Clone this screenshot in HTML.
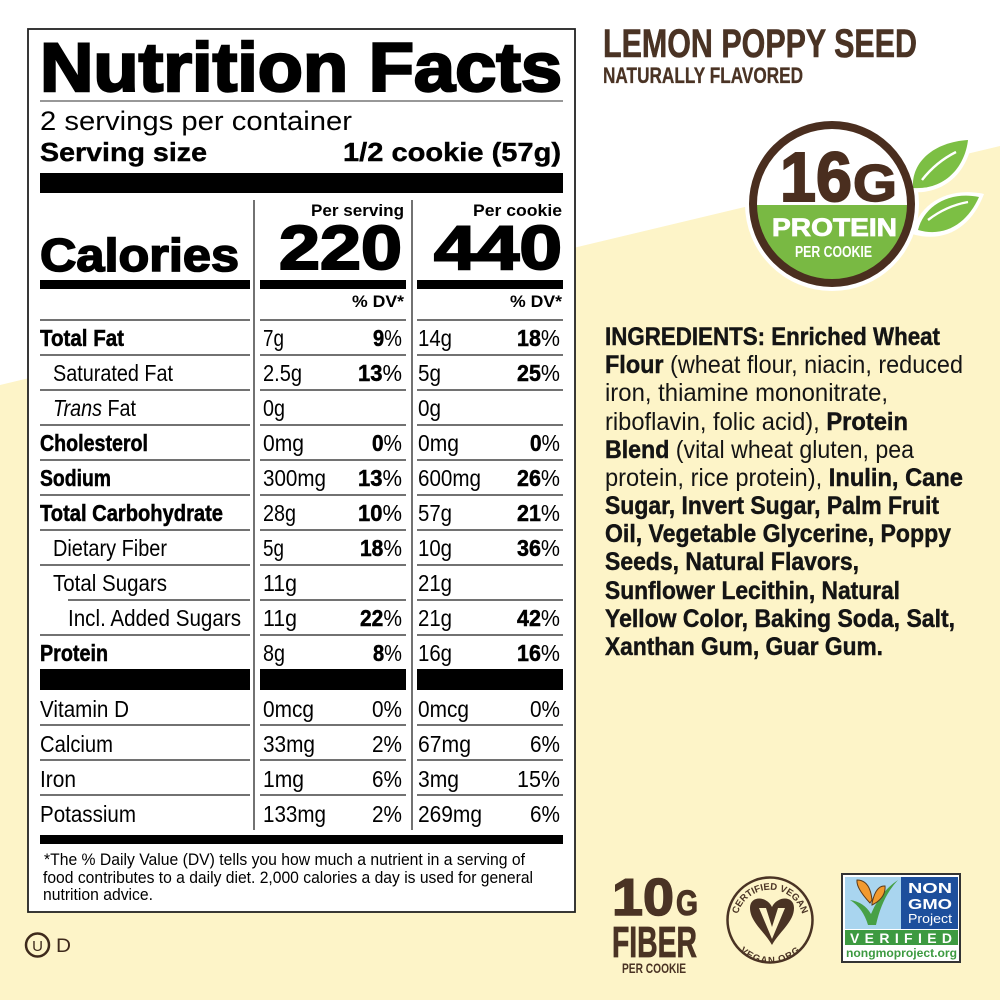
<!DOCTYPE html>
<html><head><meta charset="utf-8">
<style>
html,body{margin:0;padding:0;background:#fff;width:1000px;height:1000px;overflow:hidden;}
svg{display:block;}
text{font-family:"Liberation Sans",Arial,sans-serif;}
.r{font-size:23px;fill:#000;}
.b{font-weight:bold;stroke:#000;stroke-width:0.5;}
.ing{font-size:25px;fill:#141414;}
.ib{font-weight:bold;stroke:#141414;stroke-width:0.45;}
.br{fill:#4a3324;}
</style></head><body>
<svg width="1000" height="1000" viewBox="0 0 1000 1000" xmlns="http://www.w3.org/2000/svg">
<rect width="1000" height="1000" fill="#fff"/>
<polygon points="0,385 1000,146 1000,1000 0,1000" fill="#fdf4c8"/>

<!-- ===== Nutrition table ===== -->
<rect x="28" y="29" width="547" height="883" fill="#fff" stroke="#222" stroke-width="1.8"/>
<text x="40" y="91" font-size="69" font-weight="bold" textLength="522" lengthAdjust="spacingAndGlyphs" stroke="#000" stroke-width="2.4">Nutrition Facts</text>
<line x1="40" y1="101" x2="563" y2="101" stroke="#777" stroke-width="1.5"/>
<text x="40" y="130" font-size="27" textLength="312" lengthAdjust="spacingAndGlyphs">2 servings per container</text>
<text x="40" y="161" font-size="26" font-weight="bold" textLength="167" lengthAdjust="spacingAndGlyphs" stroke="#000" stroke-width="0.4">Serving size</text>
<text x="561" y="161" font-size="26" font-weight="bold" text-anchor="end" textLength="218" lengthAdjust="spacingAndGlyphs" stroke="#000" stroke-width="0.4">1/2 cookie (57g)</text>
<rect x="40" y="173" width="523" height="20" fill="#000"/>

<line x1="254" y1="200" x2="254" y2="830" stroke="#444" stroke-width="1.5"/>
<line x1="412" y1="200" x2="412" y2="830" stroke="#444" stroke-width="1.5"/>

<text x="404" y="216" font-size="17" font-weight="bold" text-anchor="end" textLength="93" lengthAdjust="spacingAndGlyphs">Per serving</text>
<text x="562" y="216" font-size="17" font-weight="bold" text-anchor="end" textLength="89" lengthAdjust="spacingAndGlyphs">Per cookie</text>
<text x="40" y="271" font-size="46" font-weight="bold" textLength="199" lengthAdjust="spacingAndGlyphs" stroke="#000" stroke-width="1.6">Calories</text>
<text x="279" y="269" font-size="62" font-weight="bold" textLength="123" lengthAdjust="spacingAndGlyphs" stroke="#000" stroke-width="2">220</text>
<text x="434" y="269" font-size="62" font-weight="bold" textLength="128" lengthAdjust="spacingAndGlyphs" stroke="#000" stroke-width="2">440</text>
<rect x="40" y="280" width="210" height="9" fill="#000"/>
<rect x="260" y="280" width="146" height="9" fill="#000"/>
<rect x="417" y="280" width="146" height="9" fill="#000"/>
<text x="404" y="307" font-size="17" font-weight="bold" text-anchor="end" textLength="52" lengthAdjust="spacingAndGlyphs">% DV*</text>
<text x="562" y="307" font-size="17" font-weight="bold" text-anchor="end" textLength="52" lengthAdjust="spacingAndGlyphs">% DV*</text>

<g stroke="#444" stroke-width="1.5">
<line x1="40" y1="320" x2="250" y2="320"/><line x1="260" y1="320" x2="406" y2="320"/><line x1="417" y1="320" x2="563" y2="320"/>
<line x1="40" y1="355" x2="250" y2="355"/><line x1="260" y1="355" x2="406" y2="355"/><line x1="417" y1="355" x2="563" y2="355"/>
<line x1="40" y1="390" x2="250" y2="390"/><line x1="260" y1="390" x2="406" y2="390"/><line x1="417" y1="390" x2="563" y2="390"/>
<line x1="40" y1="425" x2="250" y2="425"/><line x1="260" y1="425" x2="406" y2="425"/><line x1="417" y1="425" x2="563" y2="425"/>
<line x1="40" y1="460" x2="250" y2="460"/><line x1="260" y1="460" x2="406" y2="460"/><line x1="417" y1="460" x2="563" y2="460"/>
<line x1="40" y1="495" x2="250" y2="495"/><line x1="260" y1="495" x2="406" y2="495"/><line x1="417" y1="495" x2="563" y2="495"/>
<line x1="40" y1="530" x2="250" y2="530"/><line x1="260" y1="530" x2="406" y2="530"/><line x1="417" y1="530" x2="563" y2="530"/>
<line x1="40" y1="565" x2="250" y2="565"/><line x1="260" y1="565" x2="406" y2="565"/><line x1="417" y1="565" x2="563" y2="565"/>
<line x1="68" y1="600" x2="250" y2="600"/><line x1="260" y1="600" x2="406" y2="600"/><line x1="417" y1="600" x2="563" y2="600"/>
<line x1="40" y1="635" x2="250" y2="635"/><line x1="260" y1="635" x2="406" y2="635"/><line x1="417" y1="635" x2="563" y2="635"/>
<line x1="40" y1="725" x2="250" y2="725"/><line x1="260" y1="725" x2="406" y2="725"/><line x1="417" y1="725" x2="563" y2="725"/>
<line x1="40" y1="760" x2="250" y2="760"/><line x1="260" y1="760" x2="406" y2="760"/><line x1="417" y1="760" x2="563" y2="760"/>
<line x1="40" y1="795" x2="250" y2="795"/><line x1="260" y1="795" x2="406" y2="795"/><line x1="417" y1="795" x2="563" y2="795"/>
</g>

<!-- Row 1 Total Fat -->
<text class="r b" x="40" y="346" textLength="84" lengthAdjust="spacingAndGlyphs">Total Fat</text>
<text class="r" x="263" y="346" textLength="21" lengthAdjust="spacingAndGlyphs">7g</text>
<text class="r" x="402" y="346" text-anchor="end" textLength="29" lengthAdjust="spacingAndGlyphs"><tspan class="b">9</tspan>%</text>
<text class="r" x="418" y="346" textLength="34" lengthAdjust="spacingAndGlyphs">14g</text>
<text class="r" x="560" y="346" text-anchor="end" textLength="43" lengthAdjust="spacingAndGlyphs"><tspan class="b">18</tspan>%</text>
<!-- Row 2 Saturated Fat -->
<text class="r" x="53" y="381" textLength="120" lengthAdjust="spacingAndGlyphs">Saturated Fat</text>
<text class="r" x="263" y="381" textLength="39" lengthAdjust="spacingAndGlyphs">2.5g</text>
<text class="r" x="402" y="381" text-anchor="end" textLength="44" lengthAdjust="spacingAndGlyphs"><tspan class="b">13</tspan>%</text>
<text class="r" x="418" y="381" textLength="23" lengthAdjust="spacingAndGlyphs">5g</text>
<text class="r" x="560" y="381" text-anchor="end" textLength="43" lengthAdjust="spacingAndGlyphs"><tspan class="b">25</tspan>%</text>
<!-- Row 3 Trans Fat -->
<text class="r" x="53" y="416" textLength="83" lengthAdjust="spacingAndGlyphs"><tspan font-style="italic">Trans</tspan> Fat</text>
<text class="r" x="263" y="416" textLength="22" lengthAdjust="spacingAndGlyphs">0g</text>
<text class="r" x="418" y="416" textLength="23" lengthAdjust="spacingAndGlyphs">0g</text>
<!-- Row 4 Cholesterol -->
<text class="r b" x="40" y="451" textLength="108" lengthAdjust="spacingAndGlyphs">Cholesterol</text>
<text class="r" x="263" y="451" textLength="41" lengthAdjust="spacingAndGlyphs">0mg</text>
<text class="r" x="402" y="451" text-anchor="end" textLength="30" lengthAdjust="spacingAndGlyphs"><tspan class="b">0</tspan>%</text>
<text class="r" x="418" y="451" textLength="41" lengthAdjust="spacingAndGlyphs">0mg</text>
<text class="r" x="560" y="451" text-anchor="end" textLength="30" lengthAdjust="spacingAndGlyphs"><tspan class="b">0</tspan>%</text>
<!-- Row 5 Sodium -->
<text class="r b" x="40" y="486" textLength="71" lengthAdjust="spacingAndGlyphs">Sodium</text>
<text class="r" x="263" y="486" textLength="63" lengthAdjust="spacingAndGlyphs">300mg</text>
<text class="r" x="402" y="486" text-anchor="end" textLength="44" lengthAdjust="spacingAndGlyphs"><tspan class="b">13</tspan>%</text>
<text class="r" x="418" y="486" textLength="63" lengthAdjust="spacingAndGlyphs">600mg</text>
<text class="r" x="560" y="486" text-anchor="end" textLength="43" lengthAdjust="spacingAndGlyphs"><tspan class="b">26</tspan>%</text>
<!-- Row 6 Total Carbohydrate -->
<text class="r b" x="40" y="521" textLength="183" lengthAdjust="spacingAndGlyphs">Total Carbohydrate</text>
<text class="r" x="263" y="521" textLength="33" lengthAdjust="spacingAndGlyphs">28g</text>
<text class="r" x="402" y="521" text-anchor="end" textLength="44" lengthAdjust="spacingAndGlyphs"><tspan class="b">10</tspan>%</text>
<text class="r" x="418" y="521" textLength="34" lengthAdjust="spacingAndGlyphs">57g</text>
<text class="r" x="560" y="521" text-anchor="end" textLength="43" lengthAdjust="spacingAndGlyphs"><tspan class="b">21</tspan>%</text>
<!-- Row 7 Dietary Fiber -->
<text class="r" x="53" y="556" textLength="114" lengthAdjust="spacingAndGlyphs">Dietary Fiber</text>
<text class="r" x="263" y="556" textLength="21" lengthAdjust="spacingAndGlyphs">5g</text>
<text class="r" x="402" y="556" text-anchor="end" textLength="42" lengthAdjust="spacingAndGlyphs"><tspan class="b">18</tspan>%</text>
<text class="r" x="418" y="556" textLength="34" lengthAdjust="spacingAndGlyphs">10g</text>
<text class="r" x="560" y="556" text-anchor="end" textLength="43" lengthAdjust="spacingAndGlyphs"><tspan class="b">36</tspan>%</text>
<!-- Row 8 Total Sugars -->
<text class="r" x="53" y="591" textLength="114" lengthAdjust="spacingAndGlyphs">Total Sugars</text>
<text class="r" x="263" y="591" textLength="34" lengthAdjust="spacingAndGlyphs">11g</text>
<text class="r" x="418" y="591" textLength="34" lengthAdjust="spacingAndGlyphs">21g</text>
<!-- Row 9 Incl Added Sugars -->
<text class="r" x="68" y="626" textLength="173" lengthAdjust="spacingAndGlyphs">Incl. Added Sugars</text>
<text class="r" x="263" y="626" textLength="34" lengthAdjust="spacingAndGlyphs">11g</text>
<text class="r" x="402" y="626" text-anchor="end" textLength="42" lengthAdjust="spacingAndGlyphs"><tspan class="b">22</tspan>%</text>
<text class="r" x="418" y="626" textLength="34" lengthAdjust="spacingAndGlyphs">21g</text>
<text class="r" x="560" y="626" text-anchor="end" textLength="43" lengthAdjust="spacingAndGlyphs"><tspan class="b">42</tspan>%</text>
<!-- Row 10 Protein -->
<text class="r b" x="40" y="661" textLength="68" lengthAdjust="spacingAndGlyphs">Protein</text>
<text class="r" x="263" y="661" textLength="22" lengthAdjust="spacingAndGlyphs">8g</text>
<text class="r" x="402" y="661" text-anchor="end" textLength="29" lengthAdjust="spacingAndGlyphs"><tspan class="b">8</tspan>%</text>
<text class="r" x="418" y="661" textLength="34" lengthAdjust="spacingAndGlyphs">16g</text>
<text class="r" x="560" y="661" text-anchor="end" textLength="43" lengthAdjust="spacingAndGlyphs"><tspan class="b">16</tspan>%</text>

<rect x="40" y="669" width="210" height="21" fill="#000"/>
<rect x="260" y="669" width="146" height="21" fill="#000"/>
<rect x="417" y="669" width="146" height="21" fill="#000"/>

<!-- Micronutrients -->
<text class="r" x="40" y="717" textLength="89" lengthAdjust="spacingAndGlyphs">Vitamin D</text>
<text class="r" x="263" y="717" textLength="51" lengthAdjust="spacingAndGlyphs">0mcg</text>
<text class="r" x="402" y="717" text-anchor="end" textLength="30" lengthAdjust="spacingAndGlyphs">0%</text>
<text class="r" x="418" y="717" textLength="51" lengthAdjust="spacingAndGlyphs">0mcg</text>
<text class="r" x="560" y="717" text-anchor="end" textLength="30" lengthAdjust="spacingAndGlyphs">0%</text>

<text class="r" x="40" y="752" textLength="73" lengthAdjust="spacingAndGlyphs">Calcium</text>
<text class="r" x="263" y="752" textLength="52" lengthAdjust="spacingAndGlyphs">33mg</text>
<text class="r" x="402" y="752" text-anchor="end" textLength="30" lengthAdjust="spacingAndGlyphs">2%</text>
<text class="r" x="418" y="752" textLength="53" lengthAdjust="spacingAndGlyphs">67mg</text>
<text class="r" x="560" y="752" text-anchor="end" textLength="30" lengthAdjust="spacingAndGlyphs">6%</text>

<text class="r" x="40" y="787" textLength="36" lengthAdjust="spacingAndGlyphs">Iron</text>
<text class="r" x="263" y="787" textLength="41" lengthAdjust="spacingAndGlyphs">1mg</text>
<text class="r" x="402" y="787" text-anchor="end" textLength="30" lengthAdjust="spacingAndGlyphs">6%</text>
<text class="r" x="418" y="787" textLength="41" lengthAdjust="spacingAndGlyphs">3mg</text>
<text class="r" x="560" y="787" text-anchor="end" textLength="43" lengthAdjust="spacingAndGlyphs">15%</text>

<text class="r" x="40" y="822" textLength="96" lengthAdjust="spacingAndGlyphs">Potassium</text>
<text class="r" x="263" y="822" textLength="63" lengthAdjust="spacingAndGlyphs">133mg</text>
<text class="r" x="402" y="822" text-anchor="end" textLength="30" lengthAdjust="spacingAndGlyphs">2%</text>
<text class="r" x="418" y="822" textLength="64" lengthAdjust="spacingAndGlyphs">269mg</text>
<text class="r" x="560" y="822" text-anchor="end" textLength="30" lengthAdjust="spacingAndGlyphs">6%</text>

<rect x="40" y="835" width="523" height="9" fill="#000"/>

<text x="44" y="865" font-size="17" textLength="481" lengthAdjust="spacingAndGlyphs">*The % Daily Value (DV) tells you how much a nutrient in a serving of</text>
<text x="43" y="883" font-size="17" textLength="490" lengthAdjust="spacingAndGlyphs">food contributes to a daily diet. 2,000 calories a day is used for general</text>
<text x="43" y="900" font-size="17" textLength="110" lengthAdjust="spacingAndGlyphs">nutrition advice.</text>

<!-- UD -->
<circle cx="37.5" cy="945" r="11.5" fill="none" stroke="#3e2a1c" stroke-width="2.5"/>
<text x="37.5" y="951" font-size="15" text-anchor="middle" fill="#3e2a1c">U</text>
<text x="56" y="952" font-size="19" textLength="15" lengthAdjust="spacingAndGlyphs" fill="#3e2a1c">D</text>

<!-- ===== Right side header ===== -->
<text class="br" x="603" y="57" font-size="40" font-weight="bold" textLength="314" lengthAdjust="spacingAndGlyphs" stroke="#4a3324" stroke-width="0.6">LEMON POPPY SEED</text>
<text class="br" x="603" y="83" font-size="22" font-weight="bold" textLength="200" lengthAdjust="spacingAndGlyphs" stroke="#4a3324" stroke-width="0.3">NATURALLY FLAVORED</text>

<!-- Badge -->
<circle cx="832" cy="204" r="87" fill="#fff"/>
<path d="M908,192 C904,160 930,134 973,135 C970,168 948,196 908,192 Z" fill="#fff"/>
<path d="M912,234 C918,204 948,186 984,194 C972,226 946,244 912,234 Z" fill="#fff"/>
<path d="M913,188 C911,162 934,142 968,140 C965,166 946,190 913,188 Z" fill="#7cbf44"/>
<path d="M918,230 C924,206 949,191 979,197 C968,222 946,238 918,230 Z" fill="#7cbf44"/>
<path d="M922,180 Q936,162 956,152" fill="none" stroke="#fff" stroke-width="2.4"/>
<path d="M928,220 Q946,206 968,202" fill="none" stroke="#fff" stroke-width="2.4"/>
<circle cx="832" cy="204" r="79" fill="#fff"/>
<path d="M753,205 A79,79 0 0 0 911,205 Z" fill="#79b943"/>
<circle cx="832" cy="204" r="79" fill="none" stroke="#4a2e1f" stroke-width="8"/>
<text x="780" y="201" font-size="70" font-weight="bold" textLength="72" lengthAdjust="spacingAndGlyphs" fill="#4a2e1f" stroke="#4a2e1f" stroke-width="2">16</text>
<text x="853" y="201" font-size="52" font-weight="bold" textLength="44" lengthAdjust="spacingAndGlyphs" fill="#4a2e1f" stroke="#4a2e1f" stroke-width="1.5">G</text>
<text x="772" y="236" font-size="25" font-weight="bold" textLength="125" lengthAdjust="spacingAndGlyphs" fill="#fff" stroke="#fff" stroke-width="0.8">PROTEIN</text>
<text x="795" y="257" font-size="16" font-weight="bold" textLength="77" lengthAdjust="spacingAndGlyphs" fill="#fff">PER COOKIE</text>

<!-- Ingredients -->
<text class="ing" x="605" y="345" textLength="335" lengthAdjust="spacingAndGlyphs"><tspan class="ib">INGREDIENTS: Enriched Wheat</tspan></text>
<text class="ing" x="605" y="373" textLength="358" lengthAdjust="spacingAndGlyphs"><tspan class="ib">Flour</tspan> (wheat flour, niacin, reduced</text>
<text class="ing" x="605" y="401" textLength="283" lengthAdjust="spacingAndGlyphs">iron, thiamine mononitrate,</text>
<text class="ing" x="605" y="430" textLength="303" lengthAdjust="spacingAndGlyphs">riboflavin, folic acid), <tspan class="ib">Protein</tspan></text>
<text class="ing" x="605" y="458" textLength="309" lengthAdjust="spacingAndGlyphs"><tspan class="ib">Blend</tspan> (vital wheat gluten, pea</text>
<text class="ing" x="605" y="486" textLength="358" lengthAdjust="spacingAndGlyphs">protein, rice protein), <tspan class="ib">Inulin, Cane</tspan></text>
<text class="ing" x="605" y="514" textLength="334" lengthAdjust="spacingAndGlyphs"><tspan class="ib">Sugar, Invert Sugar, Palm Fruit</tspan></text>
<text class="ing" x="605" y="542" textLength="346" lengthAdjust="spacingAndGlyphs"><tspan class="ib">Oil, Vegetable Glycerine, Poppy</tspan></text>
<text class="ing" x="605" y="570" textLength="254" lengthAdjust="spacingAndGlyphs"><tspan class="ib">Seeds, Natural Flavors,</tspan></text>
<text class="ing" x="605" y="599" textLength="295" lengthAdjust="spacingAndGlyphs"><tspan class="ib">Sunflower Lecithin, Natural</tspan></text>
<text class="ing" x="605" y="627" textLength="350" lengthAdjust="spacingAndGlyphs"><tspan class="ib">Yellow Color, Baking Soda, Salt,</tspan></text>
<text class="ing" x="605" y="655" textLength="278" lengthAdjust="spacingAndGlyphs"><tspan class="ib">Xanthan Gum, Guar Gum.</tspan></text>

<!-- Fiber -->
<text x="612" y="915" font-size="52" font-weight="bold" textLength="62" lengthAdjust="spacingAndGlyphs" fill="#4a3324" stroke="#4a3324" stroke-width="1.5">10</text>
<text x="676" y="915" font-size="35" font-weight="bold" textLength="22" lengthAdjust="spacingAndGlyphs" fill="#4a3324" stroke="#4a3324" stroke-width="1">G</text>
<text x="612" y="957" font-size="44" font-weight="bold" textLength="85" lengthAdjust="spacingAndGlyphs" fill="#4a3324" stroke="#4a3324" stroke-width="0.8">FIBER</text>
<text x="622" y="973" font-size="14" font-weight="bold" textLength="64" lengthAdjust="spacingAndGlyphs" fill="#4a3324">PER COOKIE</text>

<!-- Vegan logo -->
<defs>
<path id="arcTop" d="M737,929 A33.5,33.5 0 1 1 803,929"/>
<path id="arcBot" d="M733,920 A37,37 0 0 0 807,920"/>
</defs>
<circle cx="770" cy="920" r="42.5" fill="none" stroke="#4a3324" stroke-width="2.5"/>
<text font-size="9.5" font-weight="bold" fill="#4a3324"><textPath href="#arcTop" startOffset="50%" text-anchor="middle">CERTIFIED VEGAN</textPath></text>
<text font-size="9.5" font-weight="bold" fill="#4a3324"><textPath href="#arcBot" startOffset="50%" text-anchor="middle" dominant-baseline="hanging">VEGAN.ORG</textPath></text>
<path d="M772,907 C767,896 750,895 750,908 C750,922 765,932 772,945 C779,932 794,922 794,908 C794,895 777,896 772,907 Z" fill="#4a3324"/>
<polygon points="759,908 766,908 772,927 778,908 785,908 772,939" fill="#fdf4c8"/>

<!-- Non GMO -->
<rect x="842" y="874" width="118" height="88" fill="#fff" stroke="#333" stroke-width="2"/>
<rect x="845" y="877" width="56" height="52" fill="#a9d5ef"/>
<rect x="901" y="877" width="57" height="52" fill="#1d4f9c"/>
<path d="M850,900 Q863,908 868,925 L876,925 Q882,897 898,880 Q880,892 871,914 Q864,902 850,900 Z" fill="#47a046"/>
<path d="M870,903 Q856,888 857,880 Q870,880 872,900 Z" fill="#f29a2e" stroke="#5a3a1a" stroke-width="1"/>
<path d="M872,903 Q876,885 885,886 Q886,898 872,905 Z" fill="#f29a2e" stroke="#5a3a1a" stroke-width="1"/>
<text x="930" y="893" font-size="15" font-weight="bold" text-anchor="middle" textLength="44" lengthAdjust="spacingAndGlyphs" fill="#fff">NON</text>
<text x="930" y="909" font-size="15" font-weight="bold" text-anchor="middle" textLength="44" lengthAdjust="spacingAndGlyphs" fill="#fff">GMO</text>
<text x="930" y="923" font-size="13" text-anchor="middle" textLength="44" lengthAdjust="spacingAndGlyphs" fill="#fff">Project</text>
<rect x="845" y="930" width="113" height="15" fill="#3d9a41"/>
<text x="850" y="943" font-size="14" font-weight="bold" textLength="102" lengthAdjust="spacing" fill="#fff">VERIFIED</text>
<text x="846" y="957" font-size="11.5" font-weight="bold" textLength="111" lengthAdjust="spacingAndGlyphs" fill="#3d9a41">nongmoproject.org</text>
</svg>
</body></html>
